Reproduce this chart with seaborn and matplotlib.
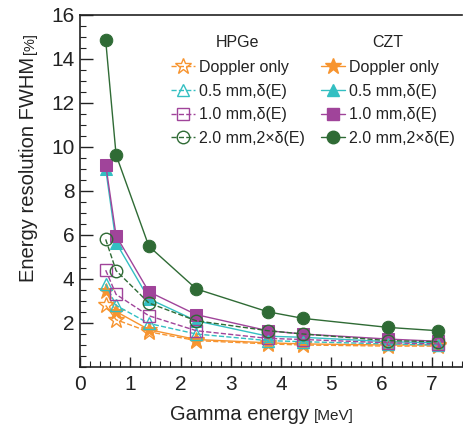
import matplotlib
matplotlib.use("Agg")
import matplotlib.pyplot as plt
import seaborn as sns
import numpy as np
from matplotlib.lines import Line2D

sns.set_theme(style="white")
plt.rcParams['font.family'] = ['Liberation Sans', 'DejaVu Sans']

# ---------------- data ----------------
energy = [0.511, 0.718, 1.37, 2.313, 3.736, 4.438, 6.129, 7.115]

hpge_doppler = [2.80, 2.15, 1.60, 1.20, 1.05, 1.00, 0.95, 0.95]
hpge_05 = [3.77, 2.80, 1.98, 1.50, 1.20, 1.15, 1.05, 1.00]
hpge_10 = [4.40, 3.30, 2.33, 1.65, 1.30, 1.25, 1.10, 1.05]
hpge_20 = [5.80, 4.38, 2.91, 2.10, 1.65, 1.50, 1.20, 1.15]

czt_doppler = [3.47, 2.52, 1.70, 1.25, 1.10, 1.05, 1.00, 1.00]
czt_05 = [9.00, 5.65, 3.10, 2.10, 1.40, 1.35, 1.15, 1.10]
czt_10 = [9.20, 5.97, 3.42, 2.38, 1.65, 1.50, 1.27, 1.17]
czt_20 = [14.85, 9.64, 5.49, 3.55, 2.51, 2.21, 1.80, 1.65]

labels = ["Doppler only", "0.5 mm,\u03b4(E)", "1.0 mm,\u03b4(E)", "2.0 mm,2\u00d7\u03b4(E)"]
xticks = [0, 1, 2, 3, 4, 5, 6, 7]
yticks = [2, 4, 6, 8, 10, 12, 14, 16]

# ---------------- styles ----------------
colors = ["#F7942F", "#33BFC2", "#A0449A", "#2F6B35"]
markers = ["*", "^", "s", "o"]
msizes = [12, 9, 9, 9]

fig = plt.figure(figsize=(4.64, 4.26), dpi=100)
ax = fig.add_axes([80/464, 1-367/426, (462-80)/464, (367-15)/426])

hpge = [hpge_doppler, hpge_05, hpge_10, hpge_20]
czt = [czt_doppler, czt_05, czt_10, czt_20]

h_handles, c_handles = [], []
for i in range(4):
    sns.lineplot(x=energy, y=czt[i], ax=ax, color=colors[i], marker=markers[i],
                 markersize=msizes[i], markerfacecolor=colors[i], markeredgecolor=colors[i],
                 linewidth=1.0, linestyle='-', zorder=3)
    c_handles.append(Line2D([], [], color=colors[i], marker=markers[i], markersize=msizes[i],
                            markerfacecolor=colors[i], markeredgecolor=colors[i], linewidth=1.0))
for i in range(4):
    sns.lineplot(x=energy, y=hpge[i], ax=ax, color=colors[i], marker=markers[i],
                 markersize=msizes[i], markerfacecolor='none', markeredgecolor=colors[i],
                 markeredgewidth=1.0, linewidth=1.0, linestyle='--', zorder=4)
    h_handles.append(Line2D([], [], color=colors[i], marker=markers[i], markersize=msizes[i],
                            markerfacecolor='none', markeredgecolor=colors[i], linewidth=1.0,
                            linestyle='--'))

ax.set_xlim(0, 7.6)
ax.set_ylim(0, 16)
ax.set_xticks(xticks)
ax.set_yticks(yticks)
ax.set_xticks(np.arange(0, 7.61, 0.2), minor=True)
ax.set_yticks(np.arange(0, 16.01, 0.5), minor=True)
ax.tick_params(axis='both', which='major', direction='in', length=9, width=1.0,
               color='#222222', labelsize=15, labelcolor='#222222')
ax.tick_params(axis='both', which='minor', direction='in', length=4.5, width=0.8,
               color='#222222')
ax.tick_params(axis='x', which='major', length=7, pad=6)
ax.tick_params(axis='y', which='major', pad=4)
ax.tick_params(left=True, bottom=True, which='both')
ax.set_xlabel("")
ax.set_ylabel("")
for s in ['left', 'bottom', 'top']:
    ax.spines[s].set_color('#222222')
    ax.spines[s].set_linewidth(1.2)
ax.spines['right'].set_visible(False)
ax.grid(False)

leg_kw = dict(loc='upper left', bbox_transform=fig.transFigure, frameon=False,
              fontsize=11.5, title_fontsize=11.5, handlelength=1.5, handletextpad=0.25,
              labelspacing=0.55, borderpad=0, borderaxespad=0)
leg1 = ax.legend(handles=h_handles, labels=labels, title="HPGe",
                 bbox_to_anchor=(171/464, 1-35/426), **leg_kw)
leg1._legend_box.sep = 7
ax.add_artist(leg1)
leg2 = ax.legend(handles=c_handles, labels=labels, title="CZT",
                 bbox_to_anchor=(321/464, 1-35/426), **leg_kw)
leg2._legend_box.sep = 7
for lg in (leg1, leg2):
    for t in lg.get_texts():
        t.set_color('#222222')
    lg.get_title().set_color('#222222')

# axis titles (main part + smaller unit)
xl = fig.text(170/464, 1-420/426, "Gamma energy", fontsize=14.5, ha='left', va='baseline',
              color='#222222')
yl = fig.text(34/464, 1-282/426, "Energy resolution FWHM", fontsize=14.5, rotation=90,
              rotation_mode='anchor', ha='left', va='baseline', color='#222222')
fig.canvas.draw()
r = fig.canvas.get_renderer()
inv = fig.transFigure.inverted()
bx = inv.transform(xl.get_window_extent(r))
fig.text(bx[1, 0] + 5/464, 1-420/426, "[MeV]", fontsize=11, ha='left', va='baseline',
         color='#222222')
by = inv.transform(yl.get_window_extent(r))
fig.text(34/464, by[1, 1] + 3/426, "[%]", fontsize=10.5, rotation=90, rotation_mode='anchor',
         ha='left', va='baseline', color='#222222')

fig.savefig("out.png", dpi=100)
